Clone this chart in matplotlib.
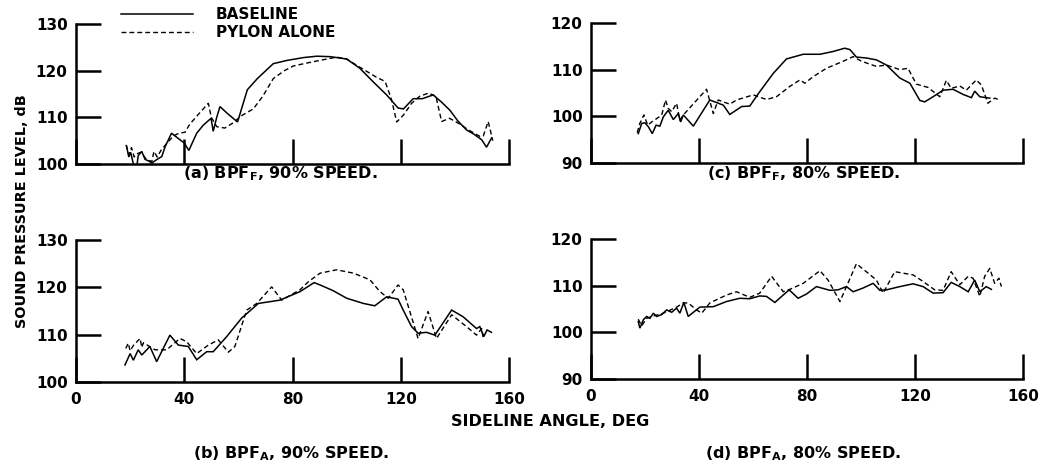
import matplotlib
matplotlib.use("Agg")
import matplotlib.pyplot as plt
from matplotlib.lines import Line2D

plt.rcParams['font.family'] = ['DejaVu Sans']

# ---------------- data ----------------
# (a) BPF_F, 90% speed
a_base_x = [18.7, 19.5, 20.2, 21.0, 22.2, 23.0, 24.3, 25.5, 27.0, 28.0, 30.0, 31.7, 33.0, 35.3, 38.4, 40.0,
            41.7, 44.6, 47.0, 49.9, 50.7, 52.0, 53.2, 56.0, 59.7, 63.3, 67.0, 72.9, 78.0, 84.0, 89.0,
            94.0, 100.0, 104.9, 110.0, 114.8, 119.0, 121.0, 124.6, 128.0, 132.0, 135.0, 138.2, 141.0,
            144.3, 147.0, 149.9, 151.7, 153.0, 153.6]
a_base_y = [103.8, 101.5, 102.5, 100.5, 98.3, 101.8, 102.7, 101.0, 100.6, 100.2, 101.0, 101.6, 103.8, 106.6,
            105.2, 104.5, 102.9, 106.6, 108.3, 109.8, 107.0, 110.0, 112.3, 110.8, 109.0, 115.9, 118.3,
            121.5, 122.2, 122.8, 123.1, 123.0, 122.5, 120.5, 117.5, 114.8, 112.0, 111.8, 114.0, 114.0,
            114.8, 113.3, 111.5, 109.3, 107.3, 106.4, 105.2, 103.6, 105.0, 105.6]
a_pyl_x = [18.5, 19.5, 20.5, 21.5, 22.5, 24.0, 26.0, 28.0, 28.8, 30.0, 31.5, 33.5, 36.0, 38.0, 40.3, 42.0,
           45.0, 48.9, 50.0, 52.0, 55.0, 58.0, 61.0, 65.5, 69.0, 72.9, 77.0, 80.3, 85.0, 90.1, 96.3,
           100.0, 102.5, 107.0, 111.0, 114.2, 116.5, 118.5, 121.0, 124.0, 127.0, 130.2, 133.0, 135.1,
           138.0, 142.0, 145.0, 149.3, 150.5, 152.3, 153.2, 154.0]
a_pyl_y = [104.1, 102.0, 103.5, 101.5, 102.2, 102.5, 101.0, 100.5, 102.7, 101.5, 103.0, 104.4, 106.0, 106.6,
           106.8, 108.5, 110.5, 113.0, 110.0, 108.0, 107.7, 108.8, 110.3, 111.8, 114.5, 118.3, 120.0,
           121.0, 121.6, 122.2, 122.9, 122.5, 121.6, 120.0, 118.6, 117.7, 114.0, 109.0, 110.5, 113.0,
           114.5, 115.2, 114.5, 109.1, 109.8, 108.5, 107.3, 105.9, 106.0, 109.1, 107.0, 105.0]

# (b) BPF_A, 90% speed
b_base_x = [18.1, 20.0, 21.2, 23.0, 24.3, 27.3, 29.8, 34.7, 37.8, 41.5, 44.6, 48.3, 50.7, 55.7, 61.2, 67.4,
            75.4, 82.8, 88.0, 90.2, 95.0, 100.0, 106.2, 110.4, 114.8, 119.0, 120.9, 124.0, 126.4, 129.5,
            132.6, 138.8, 143.0, 148.0, 149.2, 150.7, 151.9, 153.5]
b_base_y = [103.6, 106.0, 104.6, 106.8, 105.7, 107.5, 104.3, 109.9, 107.8, 107.5, 104.7, 106.4, 106.4, 109.6,
            113.5, 116.6, 117.3, 119.1, 121.0, 120.5, 119.3, 117.7, 116.6, 116.1, 118.0, 117.5, 115.2,
            111.7, 110.3, 110.5, 109.9, 115.2, 113.8, 111.3, 111.7, 109.6, 111.0, 110.5]
b_pyl_x = [18.4, 19.3, 20.0, 21.3, 23.7, 24.3, 24.9, 29.2, 33.5, 38.4, 40.9, 44.6, 48.9, 52.6, 56.3, 58.7,
           63.1, 66.8, 72.3, 76.0, 82.8, 85.9, 90.2, 96.3, 102.5, 108.6, 112.3, 115.4, 119.0, 120.9,
           126.4, 130.1, 133.2, 138.8, 144.3, 148.0, 149.9, 150.5]
b_pyl_y = [107.1, 108.2, 106.6, 107.8, 109.2, 107.3, 108.3, 106.8, 106.8, 109.2, 108.5, 106.0, 107.8, 108.9,
           106.3, 107.5, 115.2, 116.6, 120.1, 117.3, 119.5, 121.2, 123.0, 123.7, 123.0, 121.6, 119.1,
           117.7, 120.5, 119.5, 109.2, 114.9, 109.2, 114.2, 111.7, 109.9, 111.3, 109.2]

# (c) BPF_F, 80% speed
c_base_x = [17.5, 18.8, 20.0, 21.2, 22.7, 24.1, 25.5, 26.8, 28.6, 30.5, 32.3, 33.2, 34.2, 37.9, 44.0, 49.0,
            51.4, 55.8, 58.8, 61.9, 67.5, 72.4, 78.6, 84.8, 89.7, 94.0, 95.9, 98.3, 102.0, 105.7, 109.4,
            114.4, 118.1, 121.8, 123.6, 126.7, 130.4, 134.1, 137.8, 140.9, 142.1, 144.0, 147.7]
c_base_y = [96.3, 98.5, 98.6, 97.8, 96.3, 98.1, 97.9, 99.9, 101.3, 99.3, 100.6, 98.8, 100.3, 97.9, 103.5,
            102.4, 100.4, 102.1, 102.2, 104.8, 109.2, 112.3, 113.3, 113.3, 113.9, 114.6, 114.3, 112.7,
            112.5, 112.1, 111.0, 108.2, 107.1, 103.4, 103.1, 104.2, 105.6, 105.8, 104.7, 104.0, 105.4,
            104.2, 103.9]
c_pyl_x = [17.1, 18.1, 19.6, 21.0, 22.5, 24.3, 26.2, 27.6, 28.6, 29.9, 31.7, 32.9, 34.2, 42.8, 45.3, 47.1,
           51.4, 53.9, 60.1, 65.0, 68.7, 73.6, 77.4, 79.2, 82.3, 87.2, 93.4, 97.1, 100.2, 105.7, 109.4,
           114.4, 117.4, 120.5, 124.8, 129.2, 131.6, 133.4, 136.6, 139.0, 142.7, 144.6, 147.0, 149.5,
           151.4]
c_pyl_y = [96.5, 98.5, 100.3, 98.1, 98.8, 99.5, 100.3, 103.5, 101.7, 101.0, 102.8, 99.2, 100.3, 105.8, 100.6,
           103.5, 102.6, 103.5, 104.6, 103.6, 104.2, 106.4, 107.8, 107.1, 108.5, 110.3, 111.8, 112.8,
           111.8, 110.7, 111.0, 110.0, 110.3, 106.9, 106.2, 104.2, 107.7, 106.0, 106.5, 105.6, 107.8,
           106.7, 102.8, 103.9, 103.5]

# (d) BPF_A, 80% speed
d_base_x = [17.5, 18.1, 19.4, 20.6, 21.8, 23.1, 24.3, 26.2, 28.0, 29.9, 31.7, 32.9, 34.4, 36.0, 40.3, 45.3,
            50.2, 55.1, 58.8, 62.5, 65.0, 68.1, 71.2, 73.4, 76.7, 79.8, 83.5, 88.5, 91.5, 94.6, 97.1,
            100.8, 104.5, 107.0, 109.4, 114.4, 119.3, 123.0, 126.7, 130.4, 133.4, 136.6, 139.7, 142.1,
            144.0, 146.4, 148.3]
d_base_y = [102.3, 100.9, 102.7, 103.4, 103.0, 104.1, 103.4, 103.8, 104.8, 104.3, 105.2, 104.1, 106.4, 103.4,
            105.4, 105.5, 106.6, 107.3, 107.2, 107.8, 107.7, 106.4, 108.0, 109.1, 107.3, 108.2, 109.8,
            109.0, 109.1, 109.8, 108.7, 109.5, 110.5, 109.0, 109.1, 109.8, 110.4, 109.8, 108.4, 108.5,
            110.7, 109.8, 108.7, 111.2, 108.7, 109.8, 109.2]
d_pyl_x = [17.5, 18.8, 20.6, 23.1, 26.8, 31.7, 34.2, 36.0, 39.1, 41.0, 44.0, 50.2, 53.9, 58.8, 62.5, 66.9,
           71.2, 73.6, 78.6, 84.8, 87.8, 92.2, 98.3, 102.6, 105.7, 108.2, 112.5, 119.3, 123.0, 127.3,
           130.4, 133.4, 136.6, 139.7, 141.5, 144.0, 145.8, 147.7, 149.5, 151.1, 152.0]
d_pyl_y = [102.8, 101.4, 103.0, 103.5, 104.1, 105.4, 106.3, 106.3, 104.8, 104.1, 106.3, 108.0, 108.7, 107.5,
           108.4, 112.0, 108.7, 109.2, 110.5, 113.2, 111.2, 106.6, 114.7, 112.7, 111.2, 108.4, 113.0,
           112.3, 110.9, 109.1, 109.0, 113.0, 110.2, 112.0, 111.6, 107.7, 112.0, 113.7, 110.5, 111.6,
           109.8]

x_ticks = [0, 40, 80, 120, 160]
y_ticks_90 = [100, 110, 120, 130]
y_ticks_80 = [90, 100, 110, 120]
captions = [r"(a) BPF$_\mathregular{F}$, 90% SPEED.", r"(b) BPF$_\mathregular{A}$, 90% SPEED.",
            r"(c) BPF$_\mathregular{F}$, 80% SPEED.", r"(d) BPF$_\mathregular{A}$, 80% SPEED."]
legend_labels = ["BASELINE", "PYLON ALONE"]

# ---------------- figure ----------------
W, H = 1040, 467
fig = plt.figure(figsize=(W / 100, H / 100), dpi=100)


def box(l, r, t, b):
    return [l / W, 1 - b / H, (r - l) / W, (b - t) / H]


dash = (0, (3.5, 2.2))
panels = [
    (box(76, 509, 24, 164), a_base_x, a_base_y, a_pyl_x, a_pyl_y, y_ticks_90, False),
    (box(76, 509, 240, 382), b_base_x, b_base_y, b_pyl_x, b_pyl_y, y_ticks_90, True),
    (box(591, 1023, 23, 163), c_base_x, c_base_y, c_pyl_x, c_pyl_y, y_ticks_80, False),
    (box(591, 1023, 239, 379), d_base_x, d_base_y, d_pyl_x, d_pyl_y, y_ticks_80, True),
]

axes = []
for rect, bx, by, px, py, yt, showx in panels:
    ax = fig.add_axes(rect)
    ax.plot(bx, by, color='black', lw=1.1, solid_joinstyle='miter')
    ax.plot(px, py, color='black', lw=1.0, linestyle=dash)
    ax.set_xlim(0, 160)
    ax.set_ylim(yt[0], yt[-1])
    ax.set_xticks(x_ticks)
    ax.set_yticks(yt)
    for s in ('top', 'right'):
        ax.spines[s].set_visible(False)
    for s in ('left', 'bottom'):
        ax.spines[s].set_linewidth(1.8)
    ax.tick_params(axis='both', direction='in', length=18, width=1.8, labelsize=11, pad=5)
    ax.tick_params(axis='x', pad=7, labelbottom=showx)
    ax.tick_params(axis='y', pad=6)
    for lab in ax.get_xticklabels() + ax.get_yticklabels():
        lab.set_fontweight('bold')
    axes.append(ax)

# captions
cap_pos = [(280, 178), (291, 458), (804, 178), (803, 458)]
for (cx, cy), txt in zip(cap_pos, captions):
    fig.text(cx / W, 1 - cy / H, txt, ha='center', va='baseline', fontsize=11.5,
             fontweight='bold')

fig.text(22 / W, 1 - 211 / H, "SOUND PRESSURE LEVEL, dB", rotation=90, ha='center', va='center',
         fontsize=10.4, fontweight='bold')
fig.text(550 / W, 1 - 426 / H, "SIDELINE ANGLE, DEG", ha='center', va='baseline',
         fontsize=11.6, fontweight='bold')

handles = [Line2D([], [], color='black', lw=1.1),
           Line2D([], [], color='black', lw=1.0, linestyle=dash)]
fig.legend(handles, legend_labels, loc='upper left', bbox_to_anchor=(121 / W, 1 - 7 / H),
           frameon=False, handlelength=4.7, handletextpad=1.5, labelspacing=0.2,
           borderpad=0, borderaxespad=0,
           prop={'size': 11, 'weight': 'bold'})

fig.savefig("out.png", dpi=100)
